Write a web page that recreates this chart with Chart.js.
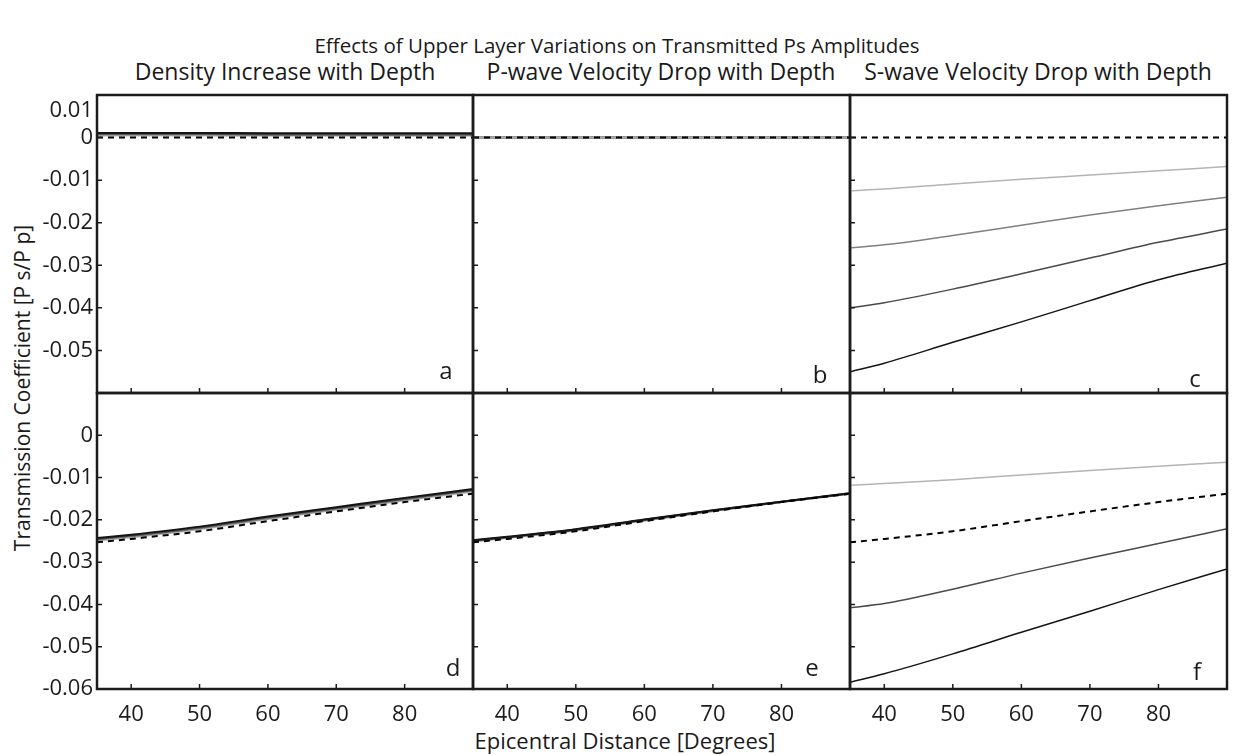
<!DOCTYPE html>
<html>
<head>
<meta charset="utf-8">
<title>Transmitted Ps amplitudes</title>
<script src="https://cdn.jsdelivr.net/npm/chart.js@4.4.0/dist/chart.umd.min.js"></script>
<style>
  body { margin: 0; background: #fff; width: 1233px; height: 755px; position: relative; overflow: hidden;
         font-family: 'Open Sans', sans-serif; color: #1a1a1a; }
  .txt { position: absolute; white-space: nowrap; transform: translate(-50%, -50%); line-height: 1; }
  canvas { position: absolute; }
</style>
</head>
<body>
<div class="txt" style="left:617px; top:45px; font-size:20.5px;">Effects of Upper Layer Variations on Transmitted Ps Amplitudes</div>
<div class="txt" style="left:285px; top:71px; font-size:23px;">Density Increase with Depth</div>
<div class="txt" style="left:661px; top:71px; font-size:23px;">P-wave Velocity Drop with Depth</div>
<div class="txt" style="left:1038px; top:71px; font-size:23px;">S-wave Velocity Drop with Depth</div>
<div class="txt" style="left:22px; top:388px; font-size:21px; transform:translate(-50%, -50%) rotate(-90deg);">Transmission Coefficient [P s/P p]</div>
<div class="txt" style="left:625px; top:740px; font-size:22px;">Epicentral Distance [Degrees]</div>

<script>
// epicentral distance (degrees) at which each curve was sampled
const DIST = [35, 40, 50, 60, 70, 80, 90];
const X_TICKS = [40, 50, 60, 70, 80];
const Y_TICKS_TOP = [0.01, 0, -0.01, -0.02, -0.03, -0.04, -0.05];
const Y_TICKS_BOTTOM = [0, -0.01, -0.02, -0.03, -0.04, -0.05, -0.06];

// dashed reference curves
const REF_TOP = [0, 0, 0, 0, 0, 0, 0];
const REF_BOTTOM = [-0.0253, -0.0245, -0.0227, -0.0203, -0.0180, -0.0158, -0.0138];

// a: density increase
const A_BLACK = [0.0011, 0.0011, 0.0011, 0.0010, 0.0010, 0.0010, 0.0010];
const A_DARK  = [0.0009, 0.0009, 0.0009, 0.0008, 0.0008, 0.0008, 0.0008];
const A_MID   = [0.0007, 0.0007, 0.0007, 0.0006, 0.0006, 0.0006, 0.0006];
const A_LIGHT = [0.0005, 0.0005, 0.0005, 0.0004, 0.0004, 0.0004, 0.0004];

// b: P-wave velocity drop
const B_BLACK = [0, 0, 0, 0, 0, 0, 0];
const B_DARK  = [0, 0, 0, 0, 0, 0, 0];
const B_MID   = [0, 0, 0, 0, 0, 0, 0];
const B_LIGHT = [0, 0, 0, 0, 0, 0, 0];

// c: S-wave velocity drop
const C_BLACK = [-0.0550, -0.0530, -0.0481, -0.0433, -0.0383, -0.0334, -0.0295];
const C_DARK  = [-0.0400, -0.0388, -0.0356, -0.0320, -0.0283, -0.0246, -0.0215];
const C_MID   = [-0.0259, -0.0252, -0.0230, -0.0206, -0.0182, -0.0160, -0.0140];
const C_LIGHT = [-0.0125, -0.0121, -0.0109, -0.0098, -0.0088, -0.0078, -0.0068];

// d: density increase
const D_BLACK = [-0.0243, -0.0235, -0.0216, -0.0192, -0.0170, -0.0148, -0.0127];
const D_DARK  = [-0.0245, -0.0237, -0.0218, -0.0194, -0.0172, -0.0150, -0.0129];
const D_MID   = [-0.0247, -0.0239, -0.0220, -0.0196, -0.0174, -0.0152, -0.0131];
const D_LIGHT = [-0.0249, -0.0241, -0.0222, -0.0198, -0.0176, -0.0154, -0.0133];

// e: P-wave velocity drop
const E_BLACK = [-0.0248, -0.0240, -0.0222, -0.0199, -0.0177, -0.0157, -0.0137];
const E_DARK  = [-0.0249, -0.0241, -0.0223, -0.0200, -0.0178, -0.0157, -0.0137];
const E_MID   = [-0.0250, -0.0242, -0.0224, -0.0201, -0.0179, -0.0158, -0.0138];
const E_LIGHT = [-0.0251, -0.0243, -0.0225, -0.0202, -0.0179, -0.0158, -0.0138];

// f: S-wave velocity drop (middle curve is the reference)
const F_BLACK = [-0.0584, -0.0564, -0.0517, -0.0466, -0.0416, -0.0365, -0.0316];
const F_DARK  = [-0.0408, -0.0398, -0.0364, -0.0326, -0.0290, -0.0256, -0.0221];
const F_LIGHT = [-0.0118, -0.0114, -0.0105, -0.0094, -0.0083, -0.0073, -0.0064];

const SHADES = { black: '#141414', dark: '#4a4a4a', mid: '#808080', light: '#b4b4b4' };
const INK = '#1c1c1c';
const TICK_FONT = { family: "'Open Sans', sans-serif", size: 22, lineHeight: 1.4 };

// panel grid geometry
const COL_LEFT = [97, 473, 850];
const COL_WIDTH = [376, 377, 377];
const ROW_TOP = [95, 393];
const ROW_HEIGHT = [298, 296];
const Y_LABEL_W = 97;
const X_LABEL_H = 50;
const PAD = 36;

// curves listed top of the stack first
const PANELS = [
  { row: 0, col: 0, letter: 'a', lx: 27, ly: 14, ref: REF_TOP,
    curves: [['black', A_BLACK], ['dark', A_DARK], ['mid', A_MID], ['light', A_LIGHT]] },
  { row: 0, col: 1, letter: 'b', lx: 30, ly: 10, ref: REF_TOP,
    curves: [['light', B_LIGHT], ['mid', B_MID], ['dark', B_DARK], ['black', B_BLACK]] },
  { row: 0, col: 2, letter: 'c', lx: 32, ly: 6, ref: REF_TOP,
    curves: [['black', C_BLACK], ['dark', C_DARK], ['mid', C_MID], ['light', C_LIGHT]] },
  { row: 1, col: 0, letter: 'd', lx: 20, ly: 13, ref: REF_BOTTOM,
    curves: [['black', D_BLACK], ['dark', D_DARK], ['mid', D_MID], ['light', D_LIGHT]] },
  { row: 1, col: 1, letter: 'e', lx: 38, ly: 13, ref: REF_BOTTOM,
    curves: [['black', E_BLACK], ['dark', E_DARK], ['mid', E_MID], ['light', E_LIGHT]] },
  { row: 1, col: 2, letter: 'f', lx: 30, ly: 9, ref: REF_BOTTOM,
    curves: [['black', F_BLACK], ['dark', F_DARK], ['light', F_LIGHT]] },
];

const toPoints = ys => DIST.map((x, i) => ({ x, y: ys[i] }));

// box, inward tick marks and the panel letter
const panelFrame = {
  id: 'panelFrame',
  afterDraw(chart, args, opts) {
    const { ctx, chartArea: a, scales } = chart;
    ctx.save();
    ctx.strokeStyle = INK;
    ctx.lineWidth = 1.5;
    ctx.beginPath();
    X_TICKS.forEach(v => {
      const px = scales.x.getPixelForValue(v);
      ctx.moveTo(px, a.bottom);
      ctx.lineTo(px, a.bottom - 5);
    });
    opts.yTicks.forEach(v => {
      const py = scales.y.getPixelForValue(v);
      ctx.moveTo(a.left, py);
      ctx.lineTo(a.left + 5, py);
    });
    ctx.stroke();
    ctx.lineWidth = 2.5;
    ctx.strokeRect(a.left, a.top, a.right - a.left, a.bottom - a.top);
    ctx.fillStyle = INK;
    ctx.font = "24px 'Open Sans', sans-serif";
    ctx.textAlign = 'center';
    ctx.textBaseline = 'alphabetic';
    ctx.fillText(opts.letter, a.right - opts.lx, a.bottom - opts.ly);
    ctx.restore();
  },
};

function buildDatasets(p) {
  const sets = [{
    data: toPoints(p.ref),
    borderColor: '#000',
    borderWidth: 2,
    borderDash: [6, 5],
  }];
  p.curves.forEach(([shade, ys]) => {
    sets.push({
      data: toPoints(ys),
      borderColor: SHADES[shade],
      borderWidth: p.col === 2 ? 1.5 : 2,
    });
  });
  return sets;
}

function panelOptions(p) {
  const yTicks = p.row === 0 ? Y_TICKS_TOP : Y_TICKS_BOTTOM;
  const showX = p.row === 1;
  const showY = p.col === 0;
  return {
    responsive: false,
    animation: false,
    events: [],
    layout: { padding: PAD },
    elements: { point: { radius: 0 }, line: { cubicInterpolationMode: 'monotone' } },
    plugins: {
      legend: { display: false },
      tooltip: { enabled: false },
      panelFrame: { yTicks, letter: p.letter, lx: p.lx, ly: p.ly },
    },
    scales: {
      x: {
        type: 'linear',
        min: 35,
        max: 90,
        display: showX,
        grid: { display: false, drawTicks: false },
        border: { display: false },
        afterBuildTicks: s => { s.ticks = X_TICKS.map(value => ({ value })); },
        afterFit: s => { s.height = showX ? X_LABEL_H : 0; },
        ticks: { padding: 10, color: INK, font: TICK_FONT, maxRotation: 0, autoSkip: false },
      },
      y: {
        type: 'linear',
        min: -0.06,
        max: 0.01,
        display: showY,
        grid: { display: false, drawTicks: false },
        border: { display: false },
        afterBuildTicks: s => { s.ticks = yTicks.map(value => ({ value })); },
        afterFit: s => { s.width = showY ? Y_LABEL_W : 0; },
        ticks: {
          padding: 4,
          color: INK,
          font: TICK_FONT,
          autoSkip: false,
          // the top label of the upper row sits a little below the frame
          callback: v => {
            const txt = String(+v.toFixed(2));
            return p.row === 0 && v === 0.01 ? ['', txt] : txt;
          },
        },
      },
    },
  };
}

PANELS.forEach(p => {
  const yw = p.col === 0 ? Y_LABEL_W : 0;
  const xh = p.row === 1 ? X_LABEL_H : 0;
  const canvas = document.createElement('canvas');
  canvas.width = yw + COL_WIDTH[p.col] + 2 * PAD;
  canvas.height = ROW_HEIGHT[p.row] + xh + 2 * PAD;
  canvas.style.left = (COL_LEFT[p.col] - yw - PAD) + 'px';
  canvas.style.top = (ROW_TOP[p.row] - PAD) + 'px';
  document.body.appendChild(canvas);
  new Chart(canvas.getContext('2d'), {
    type: 'line',
    data: { datasets: buildDatasets(p) },
    options: panelOptions(p),
    plugins: [panelFrame],
  });
});
</script>
</body>
</html>
